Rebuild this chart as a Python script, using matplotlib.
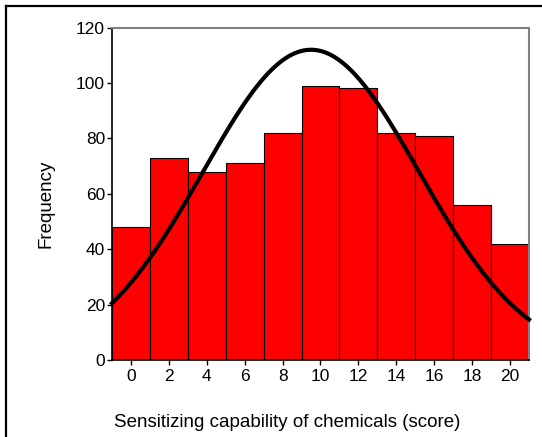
import numpy as np
import matplotlib
matplotlib.use("Agg")
import matplotlib.pyplot as plt
from matplotlib.lines import Line2D

plt.rcParams['font.family'] = ['Liberation Sans', 'DejaVu Sans']

# histogram of scores, bins of width 2 centred on the even scores
bin_centres = [0, 2, 4, 6, 8, 10, 12, 14, 16, 18, 20]
frequencies = [48, 73, 68, 71, 82, 99, 98, 82, 81, 56, 42]
bin_width = 2

# normal curve drawn over the histogram
curve_mean = 9.5
curve_sd = 5.7
n_total = 800

fig = plt.figure(figsize=(5.42, 4.37), dpi=100)
ax = fig.add_axes([0.2066, 0.176, 0.7694, 0.761])

ax.bar(bin_centres, frequencies, width=bin_width, color='#ff0000',
       edgecolor='black', linewidth=0.8, zorder=2)

xs = np.linspace(-1, 21, 400)
ys = n_total * bin_width / (curve_sd * np.sqrt(2 * np.pi)) * \
    np.exp(-(xs - curve_mean) ** 2 / (2 * curve_sd ** 2))
ax.plot(xs, ys, color='black', linewidth=3, zorder=3, clip_on=False)

ax.set_xlim(-1, 21)
ax.set_ylim(0, 120)
ax.set_xticks(bin_centres)
ax.set_yticks(range(0, 121, 20))

for side in ['top', 'right']:
    ax.spines[side].set_color('#808080')
    ax.spines[side].set_linewidth(1.5)
for side in ['left', 'bottom']:
    ax.spines[side].set_color('black')
    ax.spines[side].set_linewidth(1.2)

ax.tick_params(axis='both', direction='out', length=3.5, width=1,
               labelsize=12.5, colors='black')
ax.tick_params(axis='y', pad=1.5)
ax.tick_params(axis='x', pad=3)

fig.text(0.085, 0.533, 'Frequency', rotation=90, ha='center', va='center',
         fontsize=13.5)
fig.text(0.529, 0.033, 'Sensitizing capability of chemicals (score)',
         ha='center', va='center', fontsize=13.5)

# outer frame, left and top edges
fig.add_artist(Line2D([5.5 / 542, 5.5 / 542], [0, 1 - 5.5 / 437],
                      transform=fig.transFigure, color='black', linewidth=1.6))
fig.add_artist(Line2D([5.5 / 542, 1], [1 - 5.5 / 437, 1 - 5.5 / 437],
                      transform=fig.transFigure, color='black', linewidth=1.6))

fig.savefig('out.png', dpi=100)
